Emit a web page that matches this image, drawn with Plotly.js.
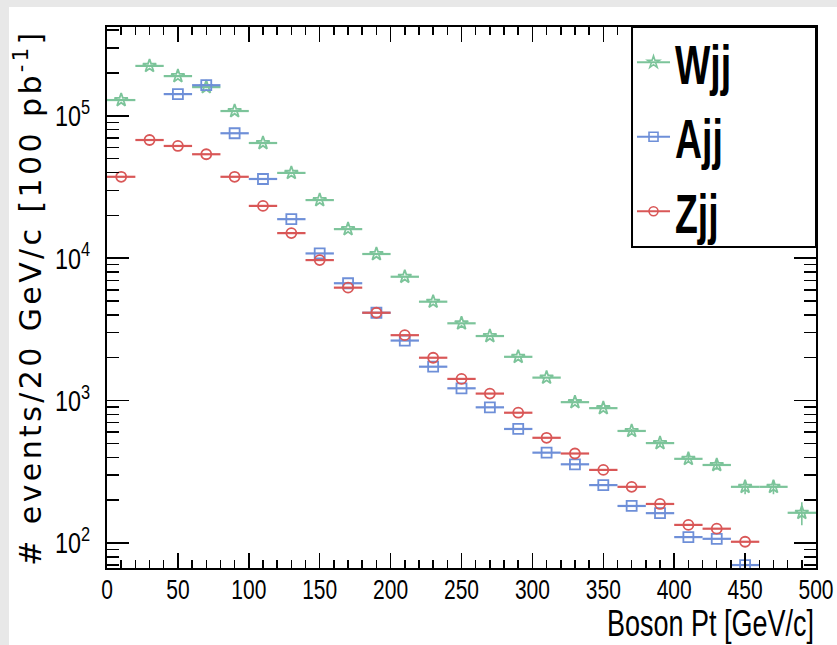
<!DOCTYPE html>
<html><head><meta charset="utf-8">
<script src="https://cdn.plot.ly/plotly-3.0.1.min.js"></script>
<style>
html,body{margin:0;padding:0;background:#e8e8e8;width:837px;height:645px;overflow:hidden}
#chart{position:absolute;left:9px;top:7px;width:828px;height:638px;background:#fff}
/* the reference uses a strongly condensed face: narrow the real text horizontally */
#chart g.xtick{transform-box:fill-box;transform-origin:center center;transform:scaleX(0.75)}
#chart g.ytick{transform-box:fill-box;transform-origin:right center;transform:scaleX(0.78)}
#chart text.legendtext{transform-box:fill-box;transform-origin:left center;transform:scaleX(0.68)}
#chart text.annotation-text{transform-box:fill-box;transform-origin:right center;transform:scaleX(0.75)}
#chart text.ytitle{letter-spacing:3.4px}
</style></head><body><div id="chart"></div>
<script>
// Bin centres of the Boson Pt histogram (GeV/c), bin width 20
const binCenters = [10,30,50,70,90,110,130,150,170,190,210,230,250,270,290,310,330,350,370,390,410,430,450,470,490];
const binHalfWidth = 10;

// events / 20 GeV/c [100 pb^-1]
const wjj = [129000,224000,190000,159000,108000,64400,39700,25600,16000,10700,7410,4950,3490,2840,2030,1450,975,885,612,503,390,353,248,248,163];
const ajj = [null,null,142000,164000,75400,36000,18800,10800,6670,4140,2640,1730,1220,897,632,431,357,255,182,162,110,107,70,null,null];
const zjj = [37300,67600,61400,53700,37300,23300,15000,9700,6210,4140,2880,2000,1420,1120,822,548,425,326,248,188,134,126,102,null,null];

// vertical (statistical) error bars, visible only on the low-count bins
const wjjErr = [0,0,0,0,0,0,0,0,0,0,0,0,0,0,0,0,0,0,20,22,25,26,28,28,30];
const ajjErr = [0,0,0,0,0,0,0,0,0,0,0,0,0,0,0,0,0,0,0,0,0,0,0,0,0];
const zjjErr = [0,0,0,0,0,0,0,0,0,0,0,0,0,0,0,0,0,0,0,0,0,0,0,0,0];

const seriesNames = ['Wjj','Ajj','Zjj'];
const xTitle = 'Boson Pt [GeV/c]';
const yTitle = '# events/20 GeV/c [100 pb<sup>-1</sup>]';

const series = [
  {name:seriesNames[0], y:wjj, err:wjjErr, color:'#7cc49a', symbol:'star-open'},
  {name:seriesNames[1], y:ajj, err:ajjErr, color:'#6e8fd8', symbol:'square-open'},
  {name:seriesNames[2], y:zjj, err:zjjErr, color:'#d95757', symbol:'circle-open'}
];

const traces = [];
series.forEach(s => {
  traces.push({
    x: binCenters, y: s.y, type:'scatter', mode:'markers', name:s.name,
    showlegend:false, legendgroup:s.name,
    marker:{symbol:s.symbol, size:10, color:s.color, line:{color:s.color, width:1.8}},
    error_x:{type:'constant', value:binHalfWidth, width:0, thickness:2.2, color:s.color},
    error_y:{type:'data', array:s.err, width:0, thickness:1.6, color:s.color}
  });
});
series.forEach(s => {
  traces.push({
    x:[null], y:[null], type:'scatter', mode:'lines+markers', name:s.name,
    legendgroup:s.name, showlegend:true,
    line:{color:s.color, width:2},
    marker:{symbol:s.symbol, size:9, color:s.color, line:{color:s.color, width:1.6}}
  });
});

const sans = 'Liberation Sans, Arial, sans-serif';

const layout = {
  width:828, height:638,
  margin:{l:98, r:21, t:20, b:77},
  paper_bgcolor:'#ffffff', plot_bgcolor:'#ffffff',
  showlegend:true,
  xaxis:{
    range:[0,500], tick0:0, dtick:50,
    ticks:'inside', ticklen:15, tickwidth:1.5, tickcolor:'#000',
    showline:true, linewidth:2, linecolor:'#000', mirror:'ticks',
    showgrid:false, zeroline:false,
    tickfont:{family:sans, size:28, color:'#000'},
    ticklabelstandoff:-5, ticklabeloverflow:'allow',
    minor:{dtick:10, ticks:'inside', ticklen:8, tickwidth:1.5, tickcolor:'#000', showgrid:false}
  },
  yaxis:{
    type:'log', range:[1.8244,5.6236], dtick:1, exponentformat:'power',
    ticks:'inside', ticklen:22, tickwidth:1.5, tickcolor:'#000',
    showline:true, linewidth:2, linecolor:'#000', mirror:'ticks',
    showgrid:false, zeroline:false,
    tickfont:{family:sans, size:24, color:'#000'},
    ticklabelstandoff:10, ticklabeloverflow:'allow',
    minor:{dtick:'D1', ticks:'inside', ticklen:12, tickwidth:1.5, tickcolor:'#000', showgrid:false},
    title:{text:yTitle, font:{family:'DejaVu Sans, sans-serif', size:30, color:'#000'}, standoff:23}
  },
  legend:{
    x:0.7405, xanchor:'left', y:1.013, yanchor:'top',
    bgcolor:'rgba(0,0,0,0)', borderwidth:0, itemwidth:33, tracegroupgap:0,
    font:{family:sans, size:55, weight:'bold', color:'#000'}
  },
  shapes:[{
    type:'rect', xref:'paper', yref:'paper', x0:0.7405, x1:1, y0:0.5933, y1:1,
    line:{color:'#000', width:2}, fillcolor:'#ffffff', layer:'above'
  }],
  annotations:[{
    text:xTitle, xref:'paper', yref:'paper', x:1, xanchor:'right', y:-0.1035, yanchor:'middle',
    showarrow:false, font:{family:sans, size:36, color:'#000'}
  }]
};

Plotly.newPlot('chart', traces, layout, {displayModeBar:false, staticPlot:true});
</script></body></html>
